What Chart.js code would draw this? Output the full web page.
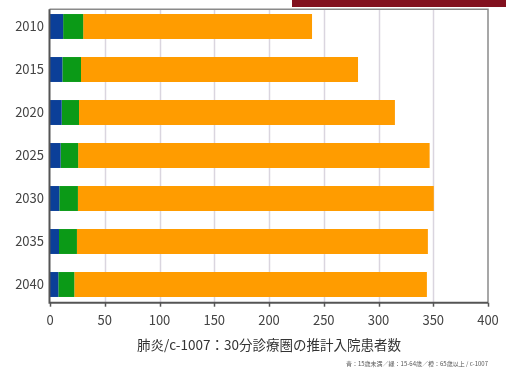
<!DOCTYPE html>
<html lang="ja">
<head>
<meta charset="utf-8">
<title>肺炎/c-1007</title>
<script src="https://cdn.jsdelivr.net/npm/chart.js@4/dist/chart.umd.min.js"></script>
<style>
  html, body { margin:0; padding:0; background:#fff; }
  body { width:506px; height:368px; position:relative; overflow:hidden; font-family:"Noto Sans CJK JP", sans-serif; }
  #wrap { position:absolute; left:0; top:0; width:506px; height:368px; }
  #band { position:absolute; left:292px; top:0; width:214px; height:7px; background:#82111f; }
  #title { position:absolute; left:0; width:538px; top:334px; text-align:center; font-size:13.5px; color:#333; }
  #note { position:absolute; right:18px; top:359px; font-size:6px; color:#555; white-space:nowrap; }
</style>
</head>
<body>
<div id="wrap"><canvas id="chart" width="506" height="368"></canvas></div>
<div id="band"></div>
<div id="title">肺炎/c-1007：30分診療圏の推計入院患者数</div>
<div id="note">青：15歳未満／緑：15-64歳／橙：65歳以上 / c-1007</div>

<script>
// 年次
const years = ['2010', '2015', '2020', '2025', '2030', '2035', '2040'];
// 年齢区分別の推計入院患者数
const under15 = [12, 11.3, 10.7, 9.7, 8.5, 8.2, 7.6];
const age15to64 = [18.3, 17, 15.8, 16, 17, 16.4, 14.6];
const over65 = [209, 253, 288.5, 321, 325, 320.5, 322];
// 横軸
const xMin = 0, xMax = 400, xStep = 50;

// 枠・目盛線・目盛を描く（枠は描画領域の少し内側）
const framePlugin = {
    id: 'frame',
    beforeDatasetsDraw(chart) {
        const { ctx, chartArea: a, scales } = chart;
        const top = a.top + 4.3, bottom = a.bottom - 3.3;
        ctx.save();
        // 目盛線
        ctx.strokeStyle = '#dad5df';
        ctx.lineWidth = 1.5;
        for (let v = xMin + xStep; v < xMax; v += xStep) {
            const x = Math.round(scales.x.getPixelForValue(v)) + 0.5;
            ctx.beginPath(); ctx.moveTo(x, top); ctx.lineTo(x, bottom); ctx.stroke();
        }
        ctx.restore();
    },
    afterDatasetsDraw(chart) {
        const { ctx, chartArea: a, scales } = chart;
        const top = a.top + 4.3, bottom = a.bottom - 3.3;
        const l = a.left - 0.5, r = a.right;
        ctx.save();
        // 上・右
        ctx.strokeStyle = '#8a8a8a';
        ctx.lineWidth = 1.5;
        ctx.beginPath(); ctx.moveTo(l, top); ctx.lineTo(r, top); ctx.lineTo(r, bottom); ctx.stroke();
        // 左・下
        ctx.strokeStyle = '#555';
        ctx.lineWidth = 2;
        ctx.beginPath(); ctx.moveTo(l, top); ctx.lineTo(l, bottom); ctx.lineTo(r, bottom); ctx.stroke();
        // 目盛
        ctx.lineWidth = 1.5;
        for (let v = xMin; v <= xMax; v += xStep) {
            const x = Math.round(scales.x.getPixelForValue(v)) + 0.5;
            ctx.beginPath(); ctx.moveTo(x, bottom); ctx.lineTo(x, bottom + 4); ctx.stroke();
        }
        ctx.restore();
    }
};

const ctx = document.getElementById('chart').getContext('2d');
new Chart(ctx, {
    type: 'bar',
    data: {
        labels: years,
        datasets: [
            { label: '15歳未満', data: under15, backgroundColor: '#0b3f98' },
            { label: '15-64歳', data: age15to64, backgroundColor: '#0b9a17' },
            { label: '65歳以上', data: over65, backgroundColor: '#ff9c00' }
        ]
    },
    options: {
        indexAxis: 'y',
        responsive: false,
        animation: false,
        layout: { autoPadding: false, padding: { top: 5, right: 18, bottom: 0, left: 0 } },
        datasets: { bar: { categoryPercentage: 1, barPercentage: 0.58, borderWidth: 0 } },
        plugins: { legend: { display: false }, tooltip: { enabled: false } },
        scales: {
            x: {
                stacked: true,
                min: xMin, max: xMax,
                ticks: { stepSize: xStep, padding: 6, color: '#444', font: { family: '"Noto Sans CJK JP"', size: 13 } },
                grid: { display: false, drawTicks: false },
                border: { display: false },
                afterFit(scale) { scale.height = 62; }
            },
            y: {
                stacked: true,
                ticks: { padding: 6, color: '#444', font: { family: '"Noto Sans CJK JP"', size: 13 } },
                grid: { display: false, drawTicks: false },
                border: { display: false },
                afterFit(scale) {
                    scale.width = 50;
                    // ラベル分の上下余白は不要
                    scale.paddingTop = 0;
                    scale.paddingBottom = 0;
                }
            }
        }
    },
    plugins: [framePlugin]
});
</script>
</body>
</html>
